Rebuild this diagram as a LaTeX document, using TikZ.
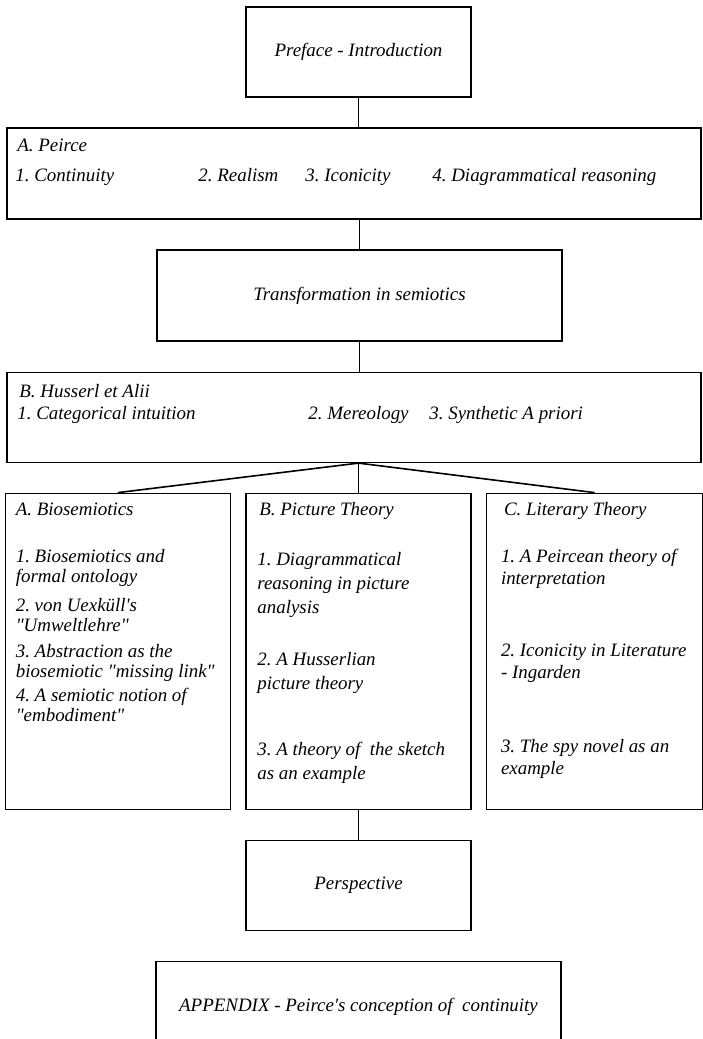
\documentclass[tikz,border=0pt]{standalone}
\usepackage{fontspec}
\setmainfont{Liberation Serif}[Ligatures=TeXOff]
\frenchspacing
\usetikzlibrary{positioning}

\tikzset{
  box/.style={draw, line width=1.6bp, inner sep=0pt, minimum height=90bp,
    font=\fontsize{19}{22}\selectfont\itshape},
  entry/.style={anchor=base west, align=left, inner sep=0pt,
    font=\fontsize{19}{#1}\selectfont\itshape},
  entry/.default=22,
  link/.style={line width=1.6bp},
}

\begin{document}
\begin{tikzpicture}[x=1bp, y=1bp, node distance=29.5bp]
  \fill[white] (0,0) rectangle (703,-1039);
  \useasboundingbox (0,0) rectangle (703,-1039);

  % main column
  \node[box, minimum width=225bp] (pref) at (358.5,-52) {Preface - Introduction};
  \node[box, minimum width=694bp, minimum height=91bp, below=of pref, xshift=-4.5bp] (peirce) {};
  \node[box, minimum width=405bp, minimum height=91bp, below=of peirce, xshift=5.5bp] (trans) {Transformation in semiotics};
  \node[box, minimum width=694bp, below=of trans, xshift=-5.5bp] (husserl) {};
  \node[box, minimum width=225bp, minimum height=316bp, below=of husserl, xshift=4.5bp] (picture) {};
  \node[box, minimum width=225bp, minimum height=316bp, left=14bp of picture] (bio) {};
  \node[box, minimum width=216bp, minimum height=316bp, right=14bp of picture] (literary) {};
  \node[box, minimum width=225bp, below=of picture] (persp) {Perspective};
  \node[box, minimum width=405bp, minimum height=91bp, below=of persp] (appendix) {APPENDIX - Peirce's conception of\ \ continuity};

  % Peirce
  \node[entry] (peirceT) at ([shift={(11,-24.5)}]peirce.north west) {A. Peirce};
  \node[entry] (peirce1) at ([shift={(9,-54.5)}]peirce.north west) {1. Continuity};
  \node[entry] (peirce2) at ([shift={(192,-54.5)}]peirce.north west) {2. Realism};
  \node[entry] (peirce3) at ([shift={(299,-54.5)}]peirce.north west) {3. Iconicity};
  \node[entry] (peirce4) at ([shift={(426,-54.5)}]peirce.north west) {4. Diagrammatical reasoning};

  % Husserl
  \node[entry] (husserlT) at ([shift={(13,-25.5)}]husserl.north west) {B. Husserl et Alii};
  \node[entry] (husserl1) at ([shift={(11,-47.5)}]husserl.north west) {1. Categorical intuition};
  \node[entry] (husserl2) at ([shift={(302,-47.5)}]husserl.north west) {2. Mereology};
  \node[entry] (husserl3) at ([shift={(423,-47.5)}]husserl.north west) {3. Synthetic A priori};

  % A. Biosemiotics (base = last line)
  \node[entry] (bioT) at ([shift={(11,-23)}]bio.north west) {A. Biosemiotics};
  \node[entry=20] (bio1) at ([shift={(11,-90)}]bio.north west) {1. Biosemiotics and\\formal ontology};
  \node[entry=20] (bio2) at ([shift={(11,-139)}]bio.north west) {2. von Uexküll's\\"Umweltlehre"};
  \node[entry=20] (bio3) at ([shift={(11,-185)}]bio.north west) {3. Abstraction as the\\biosemiotic "missing link"};
  \node[entry=20] (bio4) at ([shift={(11,-229)}]bio.north west) {4. A semiotic notion of\\"embodiment"};

  % B. Picture Theory
  \node[entry] (pictureT) at ([shift={(14,-23)}]picture.north west) {B. Picture Theory};
  \node[entry=24] (picture1) at ([shift={(12,-121)}]picture.north west) {1. Diagrammatical\\reasoning in picture\\analysis};
  \node[entry=24] (picture2) at ([shift={(12,-197)}]picture.north west) {2. A Husserlian\\picture theory};
  \node[entry=24] (picture3) at ([shift={(12,-287)}]picture.north west) {3. A theory of\ \ the sketch\\as an example};

  % C. Literary Theory
  \node[entry] (literaryT) at ([shift={(18,-23)}]literary.north west) {C. Literary Theory};
  \node[entry] (literary1) at ([shift={(15,-92)}]literary.north west) {1. A Peircean theory of\\interpretation};
  \node[entry] (literary2) at ([shift={(15,-186)}]literary.north west) {2. Iconicity in Literature\\- Ingarden};
  \node[entry] (literary3) at ([shift={(15,-282)}]literary.north west) {3. The spy novel as an\\example};

  % connectors
  \draw[link] (pref) -- (pref |- peirce.north);
  \draw[link] (trans) -- (trans |- peirce.south);
  \draw[link] (trans) -- (trans |- husserl.north);
  \coordinate (fork) at (picture |- husserl.south);
  \draw[link] (fork) -- (bio.north);
  \draw[link] (fork) -- (picture.north);
  \draw[link] (fork) -- (literary.north);
  \draw[link] (picture) -- (persp);
\end{tikzpicture}
\end{document}
